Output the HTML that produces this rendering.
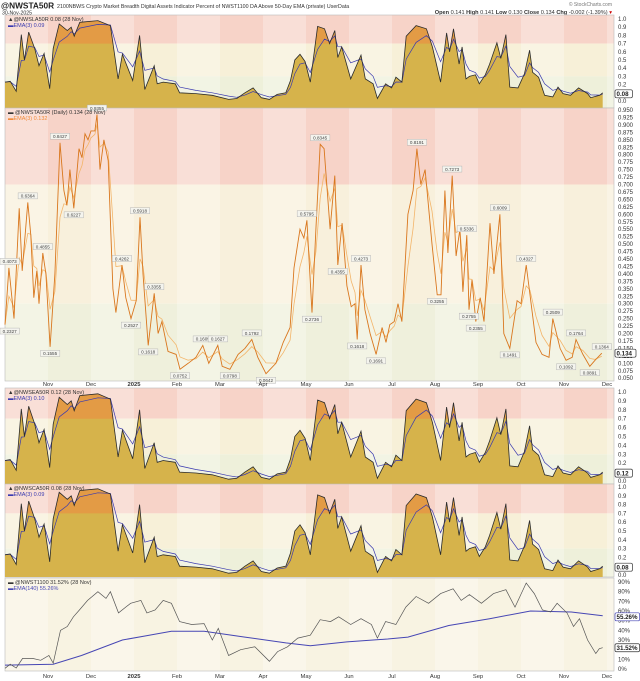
<!DOCTYPE html>
<html><head><meta charset="utf-8">
<style>
html,body{margin:0;padding:0;background:#fff;}
svg{display:block;font-family:"Liberation Sans",sans-serif;}
</style></head>
<body>
<svg id="chart" width="640" height="681" viewBox="0 0 640 681" xmlns="http://www.w3.org/2000/svg">
  <text x="1" y="8.5" font-size="8.3" font-weight="bold" fill="#222">@NWSTA50R</text>
  <text x="57" y="8" font-size="5.3" fill="#333">2100NBWS Crypto Market Breadth Digital Assets Indicator Percent of NWST1100 DA Above 50-Day EMA (private)  UserData</text>
  <text x="2" y="14.5" font-size="5.2" fill="#333">30-Nov-2025</text>
  <text x="612" y="6" font-size="5" fill="#777" text-anchor="end">© StockCharts.com</text>
  <text x="612" y="14" font-size="5.6" fill="#333" text-anchor="end"><tspan font-weight="bold">Open</tspan> 0.141 <tspan font-weight="bold">High</tspan> 0.141 <tspan font-weight="bold">Low</tspan> 0.130 <tspan font-weight="bold">Close</tspan> 0.134 <tspan font-weight="bold">Chg</tspan> -0.002 (-1.39%) <tspan fill="#c00">▾</tspan></text>
  <g id="panels"></g>
</svg>
<script>
// ---------- data ----------
const monthLabels = ["Nov","Dec","2025","Feb","Mar","Apr","May","Jun","Jul","Aug","Sep","Oct","Nov","Dec"];
const breadthT = [0.00,0.12,0.26,0.38,0.45,0.55,0.69,0.79,0.91,1.04,1.12,1.26,1.45,1.54,1.61,1.74,2.16,2.45,2.63,2.73,2.97,3.13,3.25,3.47,3.54,3.68,3.96,4.06,4.44,4.82,5.20,5.39,5.58,5.77,5.96,6.15,6.33,6.53,6.64,6.74,6.86,6.98,7.10,7.27,7.43,7.55,7.67,7.74,7.83,8.04,8.28,8.38,8.56,8.66,8.85,8.99,9.09,9.23,9.33,9.56,9.80,9.94,10.13,10.27,10.34,10.43,10.56,10.63,10.72,10.80,10.94,11.03,11.17,11.27,11.44,11.53,11.65,11.74,11.93,12.08,12.20,12.27,12.41,12.55,12.74,12.86,12.98,13.15,13.34,13.55,13.62,13.83,13.9];
const breadthVals = [.23,.24,.12,.81,.5,.84,.64,.43,.58,.15,.64,.94,.86,.9,.79,.96,.98,.92,.27,.57,.25,.80,.14,.43,.21,.23,.21,.10,.09,.07,.02,.03,.10,.16,.04,.02,.08,.10,.25,.50,.57,.48,.23,.91,.88,.70,.86,.53,.66,.27,.56,.27,.21,.03,.21,.16,.29,.23,.79,.92,.88,.66,.23,.83,.60,.88,.45,.66,.27,.30,.32,.21,.32,.45,.71,.52,.81,.17,.16,.33,.62,.35,.29,.07,.05,.17,.09,.07,.16,.09,.04,.07,.10];
const mainT = [0,.09,.21,.33,.40,.53,.60,.67,.74,.79,.88,.95,1.05,1.16,1.28,1.37,1.44,1.51,1.60,1.72,1.79,1.86,1.93,2.00,2.09,2.14,2.21,2.30,2.40,2.51,2.58,2.72,2.81,2.93,3.05,3.14,3.21,3.33,3.47,3.56,3.65,3.79,3.98,4.07,4.26,4.44,4.60,4.74,4.95,5.05,5.23,5.42,5.58,5.74,5.88,6.07,6.30,6.47,6.63,6.72,6.86,6.95,7.02,7.14,7.23,7.33,7.42,7.56,7.67,7.74,7.84,7.95,8.05,8.14,8.19,8.28,8.37,8.49,8.63,8.77,8.86,8.95,9.05,9.14,9.23,9.37,9.49,9.58,9.67,9.77,9.93,10.05,10.14,10.23,10.30,10.40,10.49,10.58,10.65,10.74,10.79,10.86,10.95,11.05,11.14,11.28,11.37,11.51,11.60,11.74,11.91,12.00,12.12,12.21,12.35,12.49,12.65,12.74,12.91,13.05,13.19,13.28,13.44,13.60,13.72,13.88];
const mainVals = [.23,.42,.25,.62,.41,.64,.53,.32,.41,.30,.47,.40,.155,.40,.84,.68,.63,.75,.62,.82,.79,.87,.85,.88,.88,.935,.75,.85,.78,.35,.27,.43,.32,.25,.31,.59,.40,.16,.335,.20,.24,.14,.13,.08,.10,.12,.16,.10,.16,.09,.08,.13,.15,.18,.12,.065,.10,.17,.22,.42,.55,.52,.58,.27,.55,.835,.82,.55,.73,.43,.57,.36,.29,.30,.18,.43,.28,.20,.13,.22,.17,.23,.24,.30,.24,.60,.68,.82,.70,.75,.50,.33,.33,.68,.47,.73,.46,.55,.34,.53,.28,.38,.24,.32,.24,.57,.40,.60,.20,.15,.31,.30,.43,.33,.17,.13,.12,.25,.15,.11,.12,.18,.13,.09,.11,.134];
const noteT = [0,.09,.53,.88,1.05,1.28,1.60,2.14,2.72,2.93,3.14,3.33,3.47,4.07,4.60,4.95,5.23,5.74,6.07,7.02,7.14,7.33,7.74,8.19,8.28,8.63,9.58,10.05,10.40,10.74,10.79,10.95,11.51,11.74,12.12,12.74,13.05,13.28,13.60,13.88];
const noteVals = [.23,.42,.64,.47,.155,.84,.62,.935,.43,.25,.59,.16,.335,.08,.16,.16,.08,.18,.065,.58,.27,.835,.43,.18,.43,.13,.82,.33,.73,.53,.28,.24,.60,.15,.43,.25,.11,.18,.09,.134];
const noteText = ["0.2327","0.4073","0.6364","0.4855","0.1555","0.8427","0.6227","0.9355","0.4262","0.2527","0.5918","0.1618","0.3355","0.0752","0.1605","0.1627","0.0798","0.1792","0.0642","0.5795","0.2736","0.8345","0.4355","0.1618","0.4273","0.1691","0.8191","0.3255","0.7273","0.5336","0.2755","0.2355","0.6009","0.1491","0.4327","0.2509","0.1092","0.1764","0.0891","0.1364"];
const noteBelow = [1,0,0,0,1,0,1,0,0,1,0,1,0,1,0,0,1,0,1,0,1,0,1,1,0,1,0,1,0,0,1,1,0,1,0,0,1,0,1,0];
const pctT = [0.00,0.12,0.26,0.41,0.64,0.83,1.02,1.12,1.29,1.45,1.59,1.73,1.92,2.16,2.35,2.45,2.64,2.92,3.16,3.30,3.49,3.68,3.87,4.06,4.34,4.63,4.82,4.96,5.20,5.48,5.81,6.15,6.34,6.57,6.81,7.10,7.33,7.57,7.76,8.04,8.28,8.52,8.66,8.85,9.09,9.32,9.56,9.85,10.13,10.42,10.61,10.80,11.08,11.36,11.65,11.86,12.12,12.31,12.50,12.69,12.84,13.07,13.22,13.36,13.55,13.74,13.82,13.9];
const pctVals = [0.7,5,1,11,11,9,14,6,40,44,54,61,71,80,73,80,58,68,71,58,61,71,68,49,46,47,30,42,14,20,23,8,18,23,32,35,51,49,54,46,52,46,32,49,46,64,75,68,78,83,71,77,68,78,82,64,89,78,61,59,68,58,44,52,30,16,21,22];
const emaT = [0,1.12,1.78,2.73,3.87,4.63,5.58,6.53,7.10,7.95,8.90,9.37,10.32,11.27,12.22,13.17,13.9];
const emaVals = [4,5,14,30,39,39,33,27,24,28,31,33,45,52,60,59,55];
const breadthTicks = [1.0,0.9,0.8,0.7,0.6,0.5,0.4,0.3,0.2,0.1,0.0];
const pctTicks = [90,80,70,60,50,40,30,20,10,0];

// ---------- drawing ----------
const NS="http://www.w3.org/2000/svg";
const root=document.getElementById('panels');
const L=5,R=614;
function X(t){return L+t*43;}
function mk(tag,attrs,parent){const e=document.createElementNS(NS,tag);for(const k in attrs)e.setAttribute(k,attrs[k]);(parent||root).appendChild(e);return e;}
function ema(vals,n){const a=2/(n+1);const out=[];let p=vals[0];for(const v of vals){p=a*v+(1-a)*p;out.push(p);}return out;}
function pts(ts,vs,Y){return ts.map((t,i)=>X(t).toFixed(1)+','+Y(vs[i]).toFixed(1)).join(' ');}

function background(top,bot,bands){
  bands.forEach(b=>{const r=mk('rect',{x:L,y:b[0],width:R-L,height:b[1]-b[0],fill:b[2]});
    
    });
  for(let m=0;m<=14;m++){
    if(m%2===0){const x0=X(m),x1=Math.min(X(m+1),R);
      const r=mk('rect',{x:x0,y:top,width:Math.max(0,x1-x0),height:bot-top,fill:'#ffffff','fill-opacity':0.28});
      
      }
  }
  const f=mk('rect',{x:L,y:top,width:R-L,height:bot-top,fill:'none',stroke:'#bbb','stroke-width':0.6});
  
  
}
function rightLabels(ticks,Y,fmt){
  ticks.forEach(v=>{const t=mk('text',{x:R+4,y:Y(v)+2,'font-size':6,fill:'#333'});t.textContent=fmt(v);
    
    });
}
function valueBox(y,txt,name,color){
  const g=mk('g',{});
  
  
  mk('rect',{x:R+1,y:y-4,width:txt.length*3.6+3,height:8,fill:'#fff',stroke:color||'#333','stroke-width':0.7,rx:1.5},g);
  const t=mk('text',{x:R+2.5,y:y+2.2,'font-size':6.2,'font-weight':'bold',fill:'#222'},g);t.textContent=txt;
}
function legend(y,a,b,ca,cb){
  const t1=mk('text',{x:L+3,y:y,'font-size':5.5,fill:'#333'});t1.textContent=a;
  
  
  const t2=mk('text',{x:L+3,y:y+6,'font-size':5.5,fill:cb});t2.textContent=b;
  
  
}
function xLabels(y){
  monthLabels.forEach((m,i)=>{const t=mk('text',{x:X(i+1),y:y,'font-size':5.8,fill:'#333','text-anchor':'middle','font-weight':m==='2025'?'bold':'normal'});t.textContent=m;
    
    });
}
let clipN=0;
function breadthPanel(top,bot,y1,y0,name,leg1,leg2,lastTxt){
  const Y=v=>y0-(y0-y1)*v;
  background(top,bot,[[top,Y(0.7),'#f7d3c8'],[Y(0.7),Y(0.3),'#f7f0d8'],[Y(0.3),bot,'#eef0da']]);
  const line=pts(breadthT,breadthVals,Y);
  const area=X(breadthT[0])+','+bot+' '+line+' '+X(breadthT[breadthT.length-1])+','+bot;
  const a=mk('polygon',{points:area,fill:'#d6b34b'});
  
  
  const id='clip'+(clipN++);
  const cp=mk('clipPath',{id:id});mk('rect',{x:L,y:top,width:R-L,height:Y(0.7)-top},cp);
  const a2=mk('polygon',{points:area,fill:'#e39b45','clip-path':'url(#'+id+')'});
  
  
  const e=mk('polyline',{points:pts(breadthT,ema(breadthVals,3),Y),fill:'none',stroke:'#3a3ab0','stroke-width':0.7});
  
  
  const l=mk('polyline',{points:line,fill:'none',stroke:'#2b2b2b','stroke-width':0.8});
  
  
  rightLabels(breadthTicks,Y,v=>v.toFixed(1));
  valueBox(Y(breadthVals[breadthVals.length-1])+1,lastTxt,name+'-last-value');
  legend(top+6,leg1,leg2,'#333','#3a3ab0');
}

// Panel 1
breadthPanel(15,108,19,101,'panel-la50r','▲@NWSLA50R 0.08 (28 Nov)','▬EMA(3) 0.09','0.08');

// Panel 2 (main)
(function(){
  const top=108,bot=381;
  const Y=v=>110+(0.95-v)*298;
  background(top,bot,[[top,Y(0.7),'#f7d3c8'],[Y(0.7),Y(0.3),'#f8f0dc'],[Y(0.3),bot,'#eff0dc']]);
  const e=mk('polyline',{points:pts(mainT,ema(mainVals,3),Y),fill:'none',stroke:'#f3b56a','stroke-width':0.8});
  
  
  const l=mk('polyline',{points:pts(mainT,mainVals,Y),fill:'none',stroke:'#d9771e','stroke-width':0.9});
  
  
  noteT.forEach((t,i)=>{
    const x=X(t),y=Y(noteVals[i])+(noteBelow[i]?7:-6);
    const g=mk('g',{});
    
    
    const w=noteText[i].length*2.9+2;
    const bx=Math.max(0,Math.min(R-w,x-w/2));
    mk('rect',{x:bx,y:y-3.5,width:w,height:6,fill:'#f4f4ee',stroke:'#aaa','stroke-width':0.4},g);
    const tx=mk('text',{x:bx+w/2,y:y+1.3,'font-size':4.6,fill:'#444','text-anchor':'middle'},g);tx.textContent=noteText[i];
  });
  const ticks=[];for(let k=38;k>=2;k--)ticks.push(k*0.025);
  rightLabels(ticks,Y,v=>v.toFixed(3));
  valueBox(Y(0.134),'0.134','main-last-value');
  legend(top+6,'▬ @NWSTA50R (Daily) 0.134 (28 Nov)','▬EMA(3) 0.132','#333','#f08a3a');
  xLabels(386);
})();

// Panel 3
breadthPanel(388,484,392,481,'panel-ea50r','▲@NWSEA50R 0.12 (28 Nov)','▬EMA(3) 0.10','0.12');
// Panel 4
breadthPanel(484,577,487,575,'panel-ca50r','▲@NWSCA50R 0.08 (28 Nov)','▬EMA(3) 0.09','0.08');

// Panel 5
(function(){
  const top=578,bot=671;
  const Y=v=>669-v*0.9667;
  background(top,bot,[[top,bot,'#f8f3e2']]);
  const e=mk('polyline',{points:pts(emaT,emaVals,Y),fill:'none',stroke:'#4646b4','stroke-width':1});
  
  
  const l=mk('polyline',{points:pts(pctT,pctVals,Y),fill:'none',stroke:'#555','stroke-width':0.7});
  
  
  rightLabels(pctTicks,Y,v=>v+'%');
  valueBox(Y(emaVals[emaVals.length-1])+1,'55.26%','ema140-last-value','#4646b4');
  valueBox(Y(pctVals[pctVals.length-1]),'31.52%','nwst1100-last-value');
  legend(top+6,'▬ @NWST1100 31.52% (28 Nov)','▬EMA(140) 55.26%','#333','#4646b4');
  xLabels(678);
})();
</script>
</body></html>
